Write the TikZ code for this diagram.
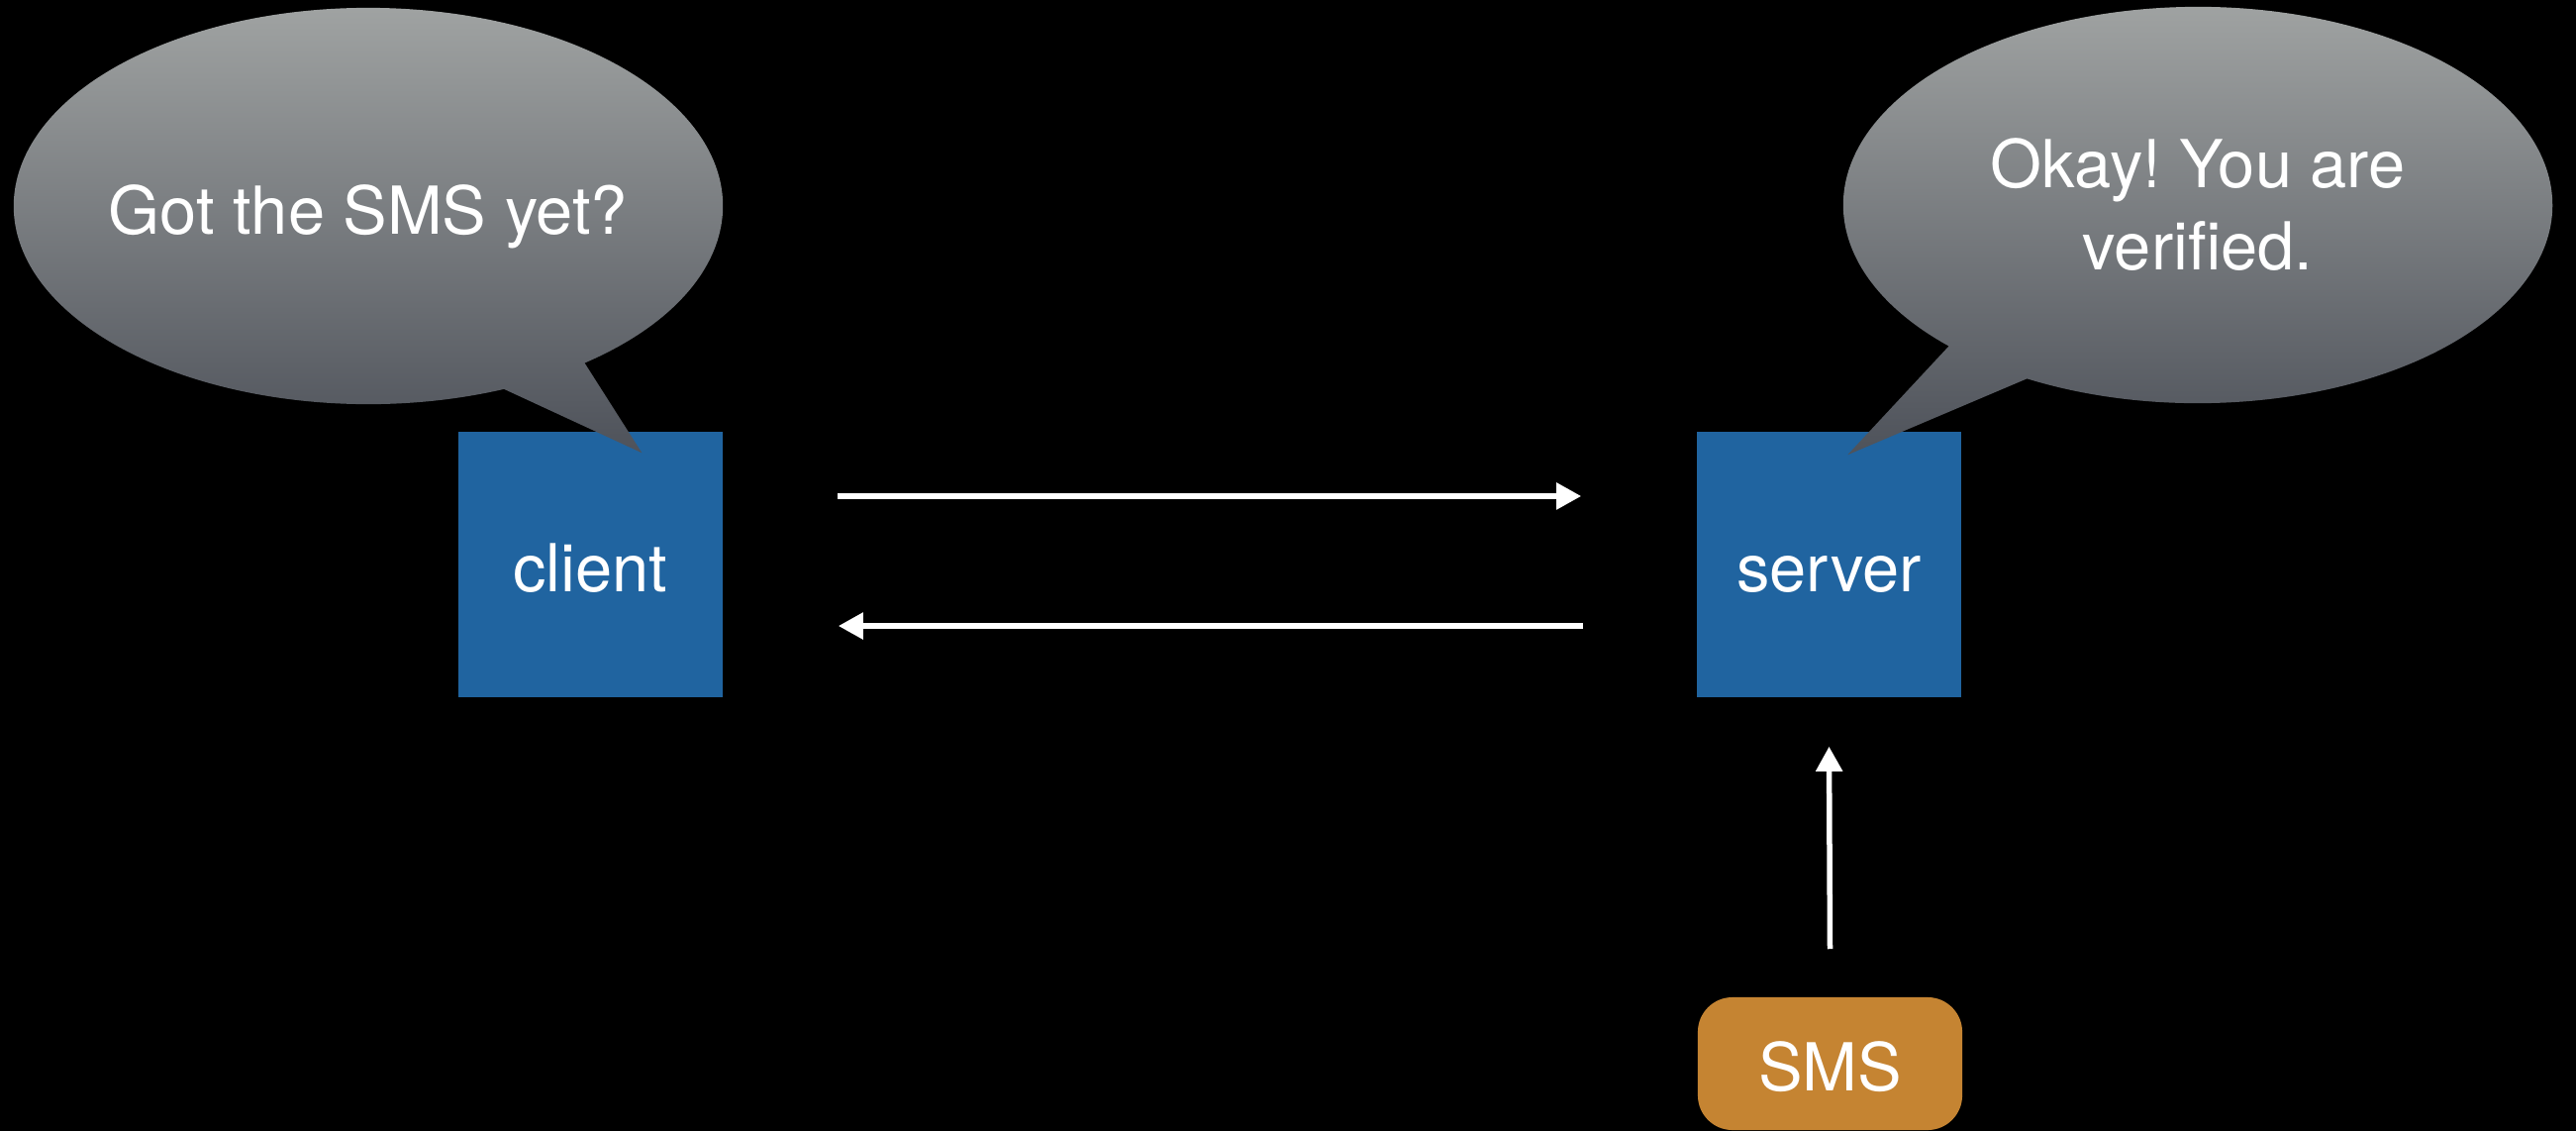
\documentclass[tikz,border=0pt]{standalone}
\usepackage{fontspec}
\setmainfont{TeX Gyre Heros}
\usetikzlibrary{arrows.meta,calc}
\definecolor{boxblue}{RGB}{32,100,160}
\definecolor{smsorange}{RGB}{197,132,50}
\definecolor{bubbletop}{RGB}{164,167,166}
\definecolor{bubblebottom}{RGB}{78,82,90}
\frenchspacing
\begin{document}
\begin{tikzpicture}[x=0.01cm,y=-0.01cm,
  labelfont/.style={font=\fontsize{19}{23.6}\selectfont},
  box/.style={rectangle, fill=boxblue, minimum width=2.67cm, minimum height=2.68cm,
    inner sep=0pt, text=white, labelfont, text height=0.54cm, text depth=0pt},
  smsbox/.style={rectangle, rounded corners=0.35cm, fill=smsorange,
    minimum width=2.67cm, minimum height=1.34cm, inner sep=0pt, text=white,
    labelfont, text height=0.54cm, text depth=0pt},
  arr/.style={draw=white, line width=0.055cm, -{Triangle[length=0.25cm,width=0.26cm]}},
  bubble/.style={top color=bubbletop, bottom color=bubblebottom},
  saytext/.style={text=white, labelfont, align=center, inner sep=0pt}]

% background
\fill[black] (0,0) rectangle (2602,1142);
\useasboundingbox (0,0) rectangle (2602,1142);

% parties
\node[box] (client) at (596.5,570) {client};
\node[box] (server) at (1847.5,570) {server};
\node[smsbox] (sms) at (1848.5,1074) {SMS};

% messages
\draw[arr] ([xshift=1.15cm,yshift=0.69cm]client.east) -- ([xshift=-1.16cm,yshift=0.69cm]server.west);
\draw[arr] ([xshift=-1.14cm,yshift=-0.62cm]server.west) -- ([xshift=1.16cm,yshift=-0.62cm]client.east);
\draw[arr] ([yshift=0.48cm]sms.north) -- ([yshift=-0.49cm]server.south);

% speech bubbles
\coordinate (lc) at (372,208);
\coordinate (ltip) at ([xshift=1.86cm,yshift=-0.22cm]client.north west);
\shade[bubble] ($(lc)+(-52.4:3.58cm and 2cm)$)
  arc[start angle=-52.4, end angle=292.5, x radius=3.58cm, y radius=2cm]
  -- (ltip) -- cycle;

\coordinate (rc) at (2220,207);
\coordinate (rtip) at ([xshift=1.53cm,yshift=-0.24cm]server.north west);
\shade[bubble] ($(rc)+(241.2:3.58cm and 2cm)$)
  arc[start angle=241.2, end angle=585.4, x radius=3.58cm, y radius=2cm]
  -- (rtip) -- cycle;

\node[saytext, anchor=base] (ask) at (372,236) {Got the SMS yet?};
\node[saytext] (reply) at (2220,207) {Okay! You are\\verified.};
\end{tikzpicture}
\end{document}
